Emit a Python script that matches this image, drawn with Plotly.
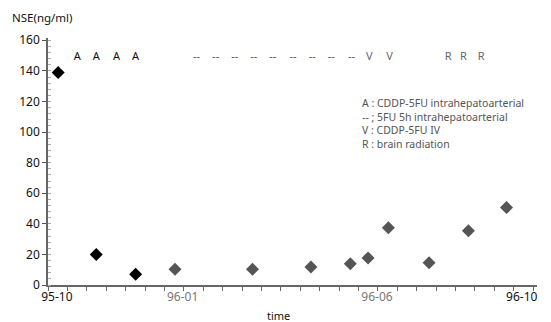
import plotly.graph_objects as go

# NSE measurements
early_dates = ["1995-10-02", "1995-11-01", "1995-12-02"]
early_nse = [139, 20, 7]
late_dates = ["1996-01-02", "1996-03-03", "1996-04-18", "1996-05-19", "1996-06-02",
              "1996-06-18", "1996-07-20", "1996-08-20", "1996-09-19"]
late_nse = [10.3, 10.3, 11.8, 13.9, 17.7, 37.5, 14.6, 35.4, 50.6]

# treatment markers
a_dates = ["1995-10-17", "1995-11-01", "1995-11-17", "1995-12-02"]
dash_dates = ["1996-01-19", "1996-02-03", "1996-02-18", "1996-03-04", "1996-03-19",
              "1996-04-04", "1996-04-19", "1996-05-04", "1996-05-20"]
v_dates = ["1996-06-03", "1996-06-19"]
r_dates = ["1996-08-04", "1996-08-16", "1996-08-30"]
marker_level = 149

# axis tick labels
x_tickvals = ["1995-10-01", "1996-01-08", "1996-06-09", "1996-10-01"]
x_ticktext = ["95-10", "<span style='color:#777'>96-01</span>",
              "<span style='color:#777'>96-06</span>", "96-10"]
y_tickvals = [0, 20, 40, 60, 80, 100, 120, 140, 160]

legend_lines = ["A : CDDP-5FU intrahepatoarterial",
                "-- ; 5FU 5h intrahepatoarterial",
                "V : CDDP-5FU IV",
                "R : brain radiation"]

FONT = "Noto Sans"
fig = go.Figure()

fig.add_trace(go.Scatter(x=early_dates, y=early_nse, mode="markers",
                         marker=dict(symbol="diamond", size=10, color="#000"),
                         showlegend=False))
fig.add_trace(go.Scatter(x=late_dates, y=late_nse, mode="markers",
                         marker=dict(symbol="diamond", size=10, color="#555"),
                         showlegend=False))


def label_trace(dates, txt, color, size):
    fig.add_trace(go.Scatter(x=dates, y=[marker_level] * len(dates), mode="text",
                             text=[txt] * len(dates),
                             textfont=dict(family=FONT, size=size, color=color),
                             showlegend=False, hoverinfo="skip"))


label_trace(a_dates, "A", "#111", 11)
label_trace(dash_dates, "--", "#555", 11)
label_trace(v_dates, "V", "#666", 11)
label_trace(r_dates, "R", "#666", 11)

L, R, T, B = 48, 14, 38, 37
pw, ph = 551 - L - R, 322 - T - B

fig.update_layout(
    width=551, height=322,
    margin=dict(l=L, r=R, t=T, b=B, pad=0),
    paper_bgcolor="white", plot_bgcolor="white",
    font=dict(family=FONT, size=12, color="#111"),
    xaxis=dict(type="date", range=["1995-09-24", "1996-10-13"],
               tickmode="array", tickvals=x_tickvals, ticktext=x_ticktext,
               ticks="", showgrid=False, zeroline=False,
               showline=True, linecolor="#666", linewidth=1.5,
               tickfont=dict(size=12, color="#111"),
               minor=dict(tick0="1995-09-24", dtick=15.28 * 86400000,
                          ticks="outside", ticklen=4, tickcolor="#666",
                          showgrid=False)),
    yaxis=dict(range=[0, 161.5], tickmode="array", tickvals=y_tickvals,
               ticks="outside", ticklen=4, tickcolor="#555",
               showgrid=False, zeroline=False,
               showline=True, linecolor="#666", linewidth=1.5,
               tickfont=dict(size=12, color="#111"),
               minor=dict(dtick=4, ticks="inside", ticklen=3,
                          tickcolor="#aaa", showgrid=False)),
)

ann = [dict(text="NSE(ng/ml)", x=(10 - L) / pw, y=(322 - B - 18) / ph,
            xanchor="left", yanchor="middle", font=dict(size=11.5, color="#111")),
       dict(text="time", x=(278 - L) / pw, y=(322 - B - 315) / ph,
            xanchor="center", yanchor="middle", font=dict(size=11, color="#111"))]
for i, line in enumerate(legend_lines):
    ann.append(dict(text=line, x=(360 - L) / pw, y=(322 - B - (103 + 13.6 * i)) / ph,
                    xanchor="left", yanchor="middle",
                    font=dict(size=10.5, color="#555")))
for a in ann:
    a.update(xref="paper", yref="paper", showarrow=False)
fig.update_layout(annotations=ann)

fig.write_html("out.html", config={"displayModeBar": False},
               post_script="document.body.style.margin='0';document.body.style.overflow='hidden';")
